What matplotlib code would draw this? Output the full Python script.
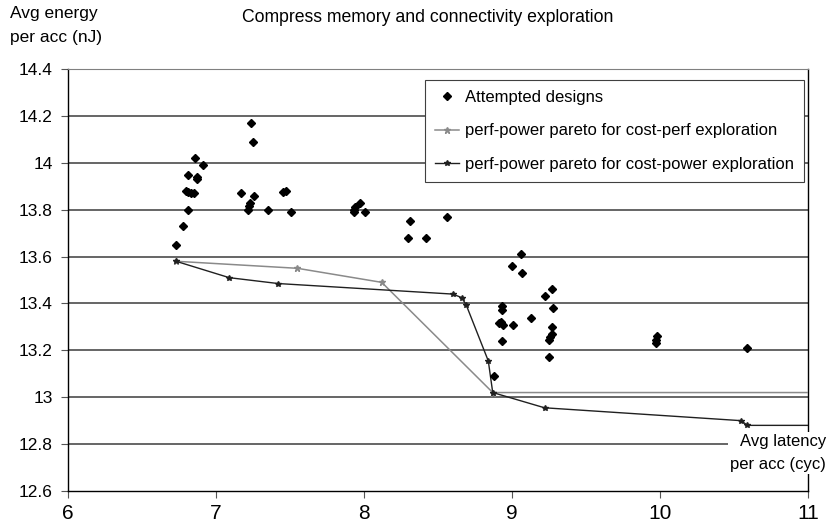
import matplotlib
matplotlib.use("Agg")
import matplotlib.pyplot as plt

plt.rcParams['font.family'] = ['Liberation Sans', 'DejaVu Sans']

# attempted design points: (avg latency per access, avg energy per access)
design_latency = [7.24, 7.25, 6.86, 6.91, 6.81, 6.87, 6.875, 6.80, 6.81, 6.83,
                  6.85, 6.81, 6.78, 6.73, 7.17, 7.26, 7.23, 7.22, 7.215, 7.35,
                  7.51, 7.45, 7.47, 7.93, 7.935, 7.94, 7.97, 8.01, 8.31, 8.56,
                  8.30, 8.42, 9.06, 9.00, 9.07, 9.27, 9.22, 9.28, 8.93, 8.93,
                  9.13, 8.91, 8.925, 8.94, 9.01, 9.27, 9.27, 9.26, 9.25, 8.93,
                  9.25, 8.88, 9.97, 9.975, 9.98, 10.59]
design_energy = [14.17, 14.09, 14.02, 13.99, 13.95, 13.94, 13.93, 13.88, 13.875, 13.87,
                 13.87, 13.80, 13.73, 13.65, 13.87, 13.86, 13.83, 13.815, 13.80, 13.80,
                 13.79, 13.875, 13.88, 13.79, 13.80, 13.81, 13.83, 13.79, 13.75, 13.77,
                 13.68, 13.68, 13.61, 13.56, 13.53, 13.46, 13.43, 13.38, 13.39, 13.37,
                 13.34, 13.315, 13.32, 13.31, 13.31, 13.30, 13.27, 13.255, 13.245, 13.24,
                 13.17, 13.09, 13.23, 13.245, 13.26, 13.21]

# pareto fronts (last point only carries the line out to the axis edge)
perf_latency = [6.73, 7.55, 8.12, 8.87, 11.0]
perf_energy = [13.58, 13.55, 13.49, 13.02, 13.02]
power_latency = [6.73, 7.09, 7.42, 8.60, 8.66, 8.69, 8.84, 8.87, 9.22, 10.55, 10.59, 11.0]
power_energy = [13.58, 13.51, 13.485, 13.44, 13.425, 13.395, 13.155, 13.02, 12.955, 12.90, 12.88, 12.88]

yticks = [12.6, 12.8, 13.0, 13.2, 13.4, 13.6, 13.8, 14.0, 14.2, 14.4]
ytick_labels = ["12.6", "12.8", "13", "13.2", "13.4", "13.6", "13.8", "14", "14.2", "14.4"]
xticks = [6, 7, 8, 9, 10, 11]

fig = plt.figure(figsize=(8.28, 5.27), dpi=100)
ax = fig.add_axes([0.0821, 0.0683, 0.8937, 0.8007])

for y in yticks[1:-1]:
    ax.axhline(y, color="#3c3c3c", lw=1.1, zorder=1)

ax.plot(design_latency, design_energy, ls="none", marker="D", ms=3.6,
        color="black", label="Attempted designs", zorder=4)
ax.plot(perf_latency, perf_energy, color="#8a8a8a", lw=1.1, marker="*", ms=4.5,
        markevery=[0, 1, 2, 3], label="perf-power pareto for cost-perf exploration", zorder=3)
ax.plot(power_latency, power_energy, color="#202020", lw=1.0, marker="*", ms=4,
        markevery=list(range(len(power_latency) - 1)),
        label="perf-power pareto for cost-power exploration", zorder=3)

ax.set_xlim(6, 11)
ax.set_ylim(12.6, 14.4)
ax.set_xticks(xticks)
ax.set_xticklabels([str(x) for x in xticks], fontsize=15)
ax.set_yticks(yticks)
ax.set_yticklabels(ytick_labels, fontsize=12.5)
ax.tick_params(axis="both", direction="out", length=5, color="#555555")
ax.tick_params(axis="x", pad=4)
ax.tick_params(axis="y", pad=6)

for side in ["left", "bottom", "right"]:
    ax.spines[side].set_color("black")
    ax.spines[side].set_linewidth(1.0)
ax.spines["top"].set_color("#808080")

leg = ax.legend(loc="upper right", bbox_to_anchor=(0.995, 0.974), fontsize=12,
                frameon=True, fancybox=False, edgecolor="#404040", framealpha=1,
                handlelength=1.4, handletextpad=0.4, labelspacing=1.1,
                borderpad=0.6, borderaxespad=0)
leg.get_frame().set_linewidth(0.8)

fig.text(0.012, 0.988, "Avg energy\nper acc (nJ)", fontsize=12.5, va="top", ha="left",
         linespacing=1.75)
fig.text(0.517, 0.966, "Compress memory and connectivity exploration", fontsize=12.7,
         va="center", ha="center")
fig.text(0.9975, 0.14, "Avg latency\nper acc (cyc)", fontsize=12, va="center", ha="right",
         linespacing=1.7, zorder=10,
         bbox=dict(facecolor="white", edgecolor="none", pad=1.5))

fig.savefig("out.png", dpi=100)
